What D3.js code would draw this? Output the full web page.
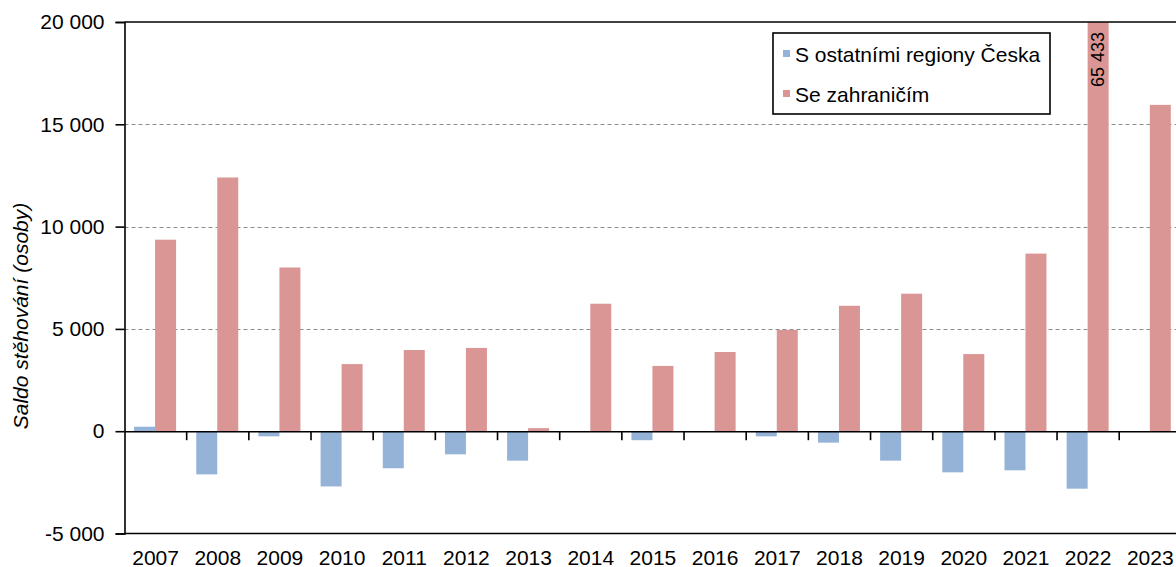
<!DOCTYPE html>
<html>
<head>
<meta charset="utf-8">
<script src="https://cdn.jsdelivr.net/npm/d3@7"></script>
<style>
  body { margin: 0; background: #fff; }
  text { font-family: "Liberation Sans", Arial, sans-serif; fill: #000; }
</style>
</head>
<body>
<div id="chart"></div>
<script>
// data
var years = ["2007", "2008", "2009", "2010", "2011", "2012", "2013", "2014", "2015",
             "2016", "2017", "2018", "2019", "2020", "2021", "2022", "2023"];
var regiony = [220, -2110, -250, -2700, -1810, -1130, -1440, -20, -440,
               -30, -250, -560, -1440, -2010, -1910, -2810, 0];
var zahranici = [9360, 12400, 8000, 3280, 3970, 4070, 150, 6230, 3190,
                 3870, 4950, 6130, 6720, 3770, 8680, 65433, 15950];
var seriesNames = ["S ostatními regiony Česka", "Se zahraničím"];
var seriesColors = ["#95b3d7", "#d99694"];
var yTicks = [-5000, 0, 5000, 10000, 15000, 20000];

var width = 1176;
var height = 567;
var plotLeft = 124.5, plotTop = 22, plotBottom = 533.5;
var band = 62.17;

var svg = d3.select("#chart")
    .append("svg")
    .attr("width", width)
    .attr("height", height);

var x = d3.scaleBand()
    .domain(years)
    .range([plotLeft, plotLeft + band * years.length])
    .padding(0);

var y = d3.scaleLinear()
    .domain([-5000, 20000])
    .range([plotBottom, plotTop]);

var fmt = function (v) {
    var s = d3.format(",")(Math.abs(v)).replace(/,/g, " ");
    return (v < 0 ? "-" : "") + s;
};

// dashed gridlines
svg.append("g")
    .selectAll("line")
    .data([5000, 10000, 15000])
    .join("line")
    .attr("x1", plotLeft)
    .attr("x2", width)
    .attr("y1", d => Math.round(y(d)) + 0.5)
    .attr("y2", d => Math.round(y(d)) + 0.5)
    .attr("stroke", "#8c8c8c")
    .attr("stroke-width", 1)
    .attr("stroke-dasharray", "4,3");

// bars
var x1 = d3.scaleBand()
    .domain([0, 1])
    .range([x.bandwidth() / 2 - 21.5, x.bandwidth() / 2 + 20.5]);

var rows = years.map((yr, i) => ({ year: yr, values: [regiony[i], zahranici[i]] }));

svg.append("g")
    .selectAll("g")
    .data(rows)
    .join("g")
    .attr("transform", d => "translate(" + x(d.year) + ",0)")
    .selectAll("rect")
    .data(d => d.values.map((v, k) => ({ k: k, v: v })))
    .join("rect")
    .attr("x", d => x1(d.k))
    .attr("width", x1.bandwidth())
    .attr("y", d => y(Math.min(Math.max(d.v, 0), 20000)))
    .attr("height", d => Math.abs(y(Math.min(d.v, 20000)) - y(0)))
    .attr("fill", d => seriesColors[d.k]);

// value label on the clipped bar
var big = zahranici.indexOf(d3.max(zahranici));
svg.append("text")
    .attr("transform", "translate(" + (x(years[big]) + x1(1) + x1.bandwidth() / 2) + "," + (plotTop + 10) + ") rotate(-90)")
    .attr("text-anchor", "end")
    .attr("dominant-baseline", "central")
    .style("font-size", "18px")
    .text(fmt(zahranici[big]));

// y axis
var yAxis = svg.append("g")
    .attr("transform", "translate(" + plotLeft + ",0)")
    .call(d3.axisLeft(y).tickValues(yTicks).tickFormat(fmt).tickSize(9).tickPadding(11));
yAxis.select(".domain").attr("stroke", "#000").attr("stroke-width", 1.6);
yAxis.selectAll(".tick line").attr("stroke-width", 1.6);
yAxis.selectAll(".tick text")
    .style("font-size", "21px")
    .style("font-family", "'Liberation Sans', Arial, sans-serif");

// top and bottom frame
svg.append("g")
    .selectAll("line")
    .data([20000, -5000])
    .join("line")
    .attr("x1", plotLeft)
    .attr("x2", width)
    .attr("y1", d => y(d))
    .attr("y2", d => y(d))
    .attr("stroke", "#000")
    .attr("stroke-width", 1.6);

// zero line with category ticks
var xAxis = svg.append("g")
    .attr("transform", "translate(0," + y(0) + ")")
    .call(d3.axisBottom(x).tickSize(0).tickFormat(""));
xAxis.select(".domain").attr("stroke", "#000").attr("stroke-width", 1.6);
xAxis.selectAll(".tick").remove();

svg.append("g")
    .selectAll("line")
    .data(years.slice(1))
    .join("line")
    .attr("x1", d => x(d))
    .attr("x2", d => x(d))
    .attr("y1", y(0))
    .attr("y2", y(0) + 9)
    .attr("stroke", "#000")
    .attr("stroke-width", 1.6);

// category labels
svg.append("g")
    .selectAll("text")
    .data(years)
    .join("text")
    .attr("x", d => x(d) + x.bandwidth() / 2)
    .attr("y", 565)
    .attr("text-anchor", "middle")
    .style("font-size", "21px")
    .text(d => d);

// y axis title
svg.append("text")
    .attr("transform", "translate(20,316) rotate(-90)")
    .attr("text-anchor", "middle")
    .attr("dominant-baseline", "central")
    .style("font-size", "21px")
    .style("font-style", "italic")
    .text("Saldo stěhování (osoby)");

// legend
var legend = svg.append("g").attr("transform", "translate(773,33)");
legend.append("rect")
    .attr("width", 277)
    .attr("height", 81)
    .attr("fill", "#fff")
    .attr("stroke", "#000")
    .attr("stroke-width", 1.6);

var items = legend.selectAll("g")
    .data(seriesNames)
    .join("g")
    .attr("transform", (d, i) => "translate(0," + (i * 40) + ")");
items.append("rect")
    .attr("x", 10)
    .attr("y", 17)
    .attr("width", 7)
    .attr("height", 7)
    .attr("fill", (d, i) => seriesColors[i]);
items.append("text")
    .attr("x", 22)
    .attr("y", 28.5)
    .style("font-size", "21px")
    .text(d => d);
</script>
</body>
</html>
